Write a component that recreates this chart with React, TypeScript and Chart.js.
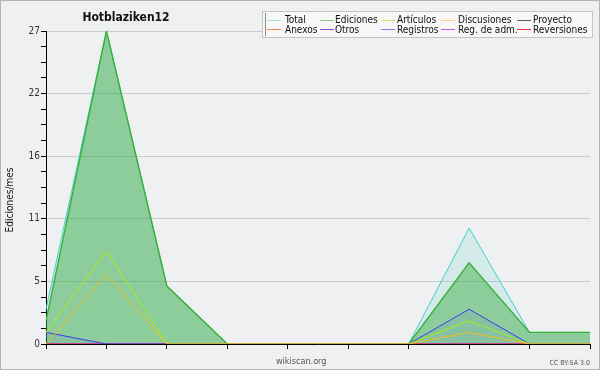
import React, { useEffect, useRef } from 'react';
import { Chart, registerables } from 'chart.js';

Chart.register(...registerables);

const categories = ['2019-01', '2019-02', '2019-03', '2019-04', '2019-05', '2019-06', '2019-07', '2019-08', '2019-09', '2019-10'];
const total = [3, 27, 5, 0, 0, 0, 0, 10, 1, 1];
const ediciones = [2, 27, 5, 0, 0, 0, 0, 7, 1, 1];
const articulos = [1, 8, 0, 0, 0, 0, 0, 2, 0, 0];
const discusiones = [0, 6, 0, 0, 0, 0, 0, 1, 0, 0];
const proyecto = [0, 0, 0, 0, 0, 0, 0, 0, 0, 0];
const anexos = [0, 0, 0, 0, 0, 0, 0, 0, 0, 0];
const otros = [0, 0, 0, 0, 0, 0, 0, 0, 0, 0];
const registros = [1, 0, 0, 0, 0, 0, 0, 3, 0, 0];
const regAdm = [0, 0, 0, 0, 0, 0, 0, 0, 0, 0];
const reversiones = [0, 0, 0, 0, 0, 0, 0, 0, 0, 0];

const yMax = 27;
const yMajorTicks = [0, 5.4, 10.8, 16.2, 21.6, 27];
const yTickLabels = ['0', '5', '11', '16', '22', '27'];
const minorPerMajor = 4;

const legendRow1 = ['Total', 'Ediciones', 'Artículos', 'Discusiones', 'Proyecto'];
const legendRow2 = ['Anexos', 'Otros', 'Registros', 'Reg. de adm.', 'Reversiones'];

const chartTitle = 'Hotblaziken12';
const yTitle = 'Ediciones/mes';
const footerLeft = 'wikiscan.org';
const footerRight = 'CC BY-SA 3.0';

const FONT = '"DejaVu Sans Condensed", "DejaVu Sans", sans-serif';

const legendColors1 = ['#a8e0dc', '#88c890', '#c0f070', '#f8d068', '#606060'];
const legendColors2 = ['#f08850', '#8848e0', '#8080f0', '#c050e0', '#f03838'];

const decorPlugin = {
  id: 'decor',
  beforeDraw(chart: any) {
    const ctx = chart.ctx;
    ctx.save();
    ctx.fillStyle = '#eff0f1';
    ctx.fillRect(0, 0, chart.width, chart.height);
    ctx.strokeStyle = '#b4b4b4';
    ctx.lineWidth = 1;
    ctx.strokeRect(0.5, 0.5, chart.width - 1, chart.height - 1);
    ctx.restore();
  },
  afterDraw(chart: any) {
    const ctx = chart.ctx;
    ctx.save();
    ctx.fillStyle = '#111';
    ctx.font = `bold 12px ${FONT}`;
    ctx.textAlign = 'center';
    ctx.textBaseline = 'alphabetic';
    ctx.fillText(chartTitle, 126, 21);

    ctx.save();
    ctx.translate(13, 200);
    ctx.rotate(-Math.PI / 2);
    ctx.font = `10px ${FONT}`;
    ctx.fillStyle = '#111';
    ctx.textAlign = 'center';
    ctx.fillText(yTitle, 0, 0);
    ctx.restore();

    ctx.font = `9px ${FONT}`;
    ctx.fillStyle = '#555';
    ctx.textAlign = 'left';
    ctx.fillText(footerLeft, 276, 364);
    ctx.font = `7px ${FONT}`;
    ctx.textAlign = 'right';
    ctx.fillText(footerRight, 590, 365);

    // minor tick shortening is approximated; legend box
    ctx.fillStyle = '#f7f7f7';
    ctx.fillRect(262, 11, 331, 26);
    ctx.strokeStyle = '#c4c4c4';
    ctx.lineWidth = 1;
    ctx.strokeRect(262.5, 11.5, 330, 26);
    ctx.strokeStyle = '#8a8a8a';
    ctx.beginPath();
    ctx.moveTo(265.5, 13);
    ctx.lineTo(265.5, 36);
    ctx.stroke();

    const lineX = [267, 320, 381, 441, 517];
    const textX = [285, 335, 397, 458, 533];
    ctx.font = `10px ${FONT}`;
    ctx.textAlign = 'left';
    ctx.textBaseline = 'alphabetic';
    const rows = [
      { labels: legendRow1, colors: legendColors1, ly: 20.5, ty: 23 },
      { labels: legendRow2, colors: legendColors2, ly: 29.5, ty: 33 },
    ];
    rows.forEach((r) => {
      r.labels.forEach((lab, i) => {
        ctx.strokeStyle = r.colors[i];
        ctx.lineWidth = 1;
        ctx.beginPath();
        ctx.moveTo(lineX[i], r.ly);
        ctx.lineTo(lineX[i] + 14, r.ly);
        ctx.stroke();
        ctx.fillStyle = '#111';
        ctx.fillText(lab, textX[i], r.ty);
      });
    });
    ctx.restore();
  },
};

export default function App() {
  const ref = useRef<HTMLCanvasElement>(null);

  useEffect(() => {
    document.body.style.margin = '0';
    if (!ref.current) return;
    const mk = (label: string, data: number[], color: string, order: number, fill: string | null, width = 1) => ({
      label,
      data,
      borderColor: color,
      borderWidth: width,
      backgroundColor: fill || 'rgba(0,0,0,0)',
      fill: fill ? 'origin' : false,
      pointRadius: 0,
      tension: 0,
      order,
    });
    const chart = new Chart(ref.current, {
      type: 'line',
      data: {
        labels: categories,
        datasets: [
          mk('Total', total, '#40d0cc', 20, 'rgba(64,208,196,0.15)'),
          mk('Ediciones', ediciones, '#38b038', 19, 'rgba(44,164,48,0.42)', 1.4),
          mk('Proyecto', proyecto, legendColors1[4], 18, null),
          mk('Anexos', anexos, legendColors2[0], 17, null),
          mk('Otros', otros, legendColors2[1], 16, null),
          mk('Reg. de adm.', regAdm, legendColors2[3], 15, null),
          mk('Reversiones', reversiones, legendColors2[4], 14, null),
          mk('Registros', registros, '#3c3cf0', 13, 'rgba(60,60,240,0.08)'),
          mk('Artículos', articulos, '#a8f010', 12, null),
          mk('Discusiones', discusiones, '#f0c020', 11, null),
        ],
      },
      options: {
        responsive: false,
        animation: false,
        layout: { padding: { left: 0, right: 10, top: 31, bottom: 0 } },
        plugins: {
          legend: { display: false },
          title: { display: false },
          tooltip: { enabled: false },
        },
        scales: {
          x: {
            z: 1,
            offset: false,
            ticks: { callback: () => '', autoSkip: false, maxRotation: 0 },
            grid: { drawOnChartArea: false, drawTicks: true, tickLength: 5, tickColor: '#000' },
            border: { color: '#000', width: 1 },
            afterFit: (s: any) => {
              s.height = 26;
            },
          },
          y: {
            z: 1,
            min: 0,
            max: yMax,
            afterBuildTicks: (s: any) => {
              const t: { value: number }[] = [];
              for (let i = 0; i < yMajorTicks.length - 1; i++) {
                const a = yMajorTicks[i];
                const b = yMajorTicks[i + 1];
                for (let j = 0; j < minorPerMajor; j++) t.push({ value: a + ((b - a) * j) / minorPerMajor });
              }
              t.push({ value: yMajorTicks[yMajorTicks.length - 1] });
              s.ticks = t;
            },
            ticks: {
              autoSkip: false,
              padding: 1,
              color: '#333',
              font: { family: FONT, size: 10 },
              callback: (_v: any, i: number) => (i % minorPerMajor === 0 ? yTickLabels[i / minorPerMajor] : ''),
            },
            grid: {
              color: (c: any) => (c.index % minorPerMajor === 0 && c.index > 0 ? 'rgba(0,0,0,0.15)' : 'rgba(0,0,0,0)'),
              tickColor: '#000',
              tickLength: 5,
            },
            border: { color: '#000', width: 1 },
            afterFit: (s: any) => {
              s.width = 46;
            },
          },
        },
      },
      plugins: [decorPlugin],
    } as any);
    return () => chart.destroy();
  }, []);

  return <canvas ref={ref} width={600} height={370} style={{ display: 'block' }} />;
}
